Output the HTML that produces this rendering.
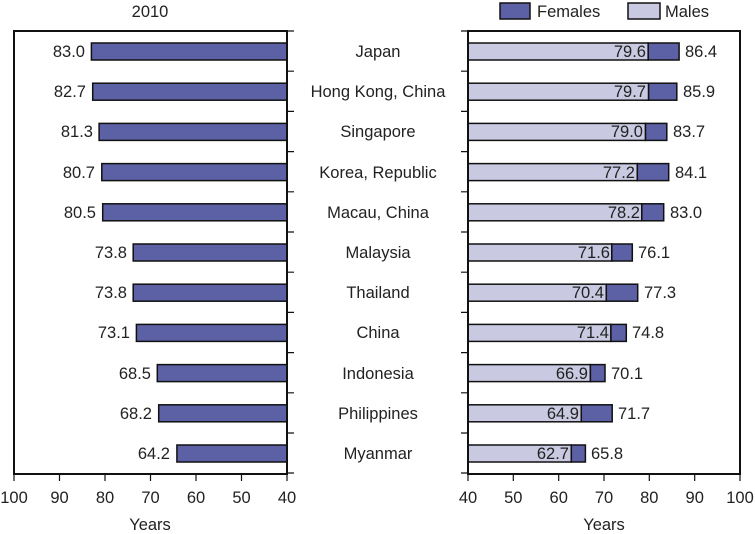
<!DOCTYPE html>
<html><head><meta charset="utf-8"><style>body{margin:0;background:#fff}svg{display:block}</style></head>
<body>
<svg width="755" height="534" xmlns="http://www.w3.org/2000/svg" font-family="Liberation Sans, sans-serif" font-size="16.5" fill="#222">
<text x="150" y="17" text-anchor="middle">2010</text>
<!-- legend -->
<rect x="500" y="3" width="30" height="16" fill="#5c61a5" stroke="#111" stroke-width="1.5"/>
<text x="537" y="17">Females</text>
<rect x="628" y="3" width="32" height="16" fill="#c9c9e2" stroke="#111" stroke-width="1.5"/>
<text x="665" y="17">Males</text>
<!-- left bars -->
<g fill="#5c61a5" stroke="#111" stroke-width="1.5">
<rect x="91.4" y="43" width="195.6" height="17"/>
<rect x="92.7" y="83.2" width="194.3" height="17"/>
<rect x="99.1" y="123.4" width="187.9" height="17"/>
<rect x="101.8" y="163.6" width="185.2" height="17"/>
<rect x="102.7" y="203.8" width="184.3" height="17"/>
<rect x="133.2" y="244" width="153.8" height="17"/>
<rect x="133.2" y="284.2" width="153.8" height="17"/>
<rect x="136.4" y="324.4" width="150.6" height="17"/>
<rect x="157.3" y="364.6" width="129.7" height="17"/>
<rect x="158.7" y="404.8" width="128.3" height="17"/>
<rect x="176.9" y="445" width="110.1" height="17"/>
</g>
<g text-anchor="end">
<text x="85" y="57">83.0</text>
<text x="86" y="97">82.7</text>
<text x="93" y="137">81.3</text>
<text x="95" y="178">80.7</text>
<text x="96" y="218">80.5</text>
<text x="127" y="258">73.8</text>
<text x="127" y="298">73.8</text>
<text x="130" y="338">73.1</text>
<text x="151" y="379">68.5</text>
<text x="152" y="419">68.2</text>
<text x="170" y="459">64.2</text>
</g>
<rect x="14" y="31" width="273" height="443" fill="none" stroke="#111" stroke-width="2"/>
<!-- right bars -->
<g stroke="#111" stroke-width="1.5">
<rect x="468" y="43" width="180.2" height="17" fill="#c9c9e2"/><rect x="648.2" y="43" width="30.9" height="17" fill="#5c61a5"/>
<rect x="468" y="83.2" width="180.6" height="17" fill="#c9c9e2"/><rect x="648.6" y="83.2" width="28.2" height="17" fill="#5c61a5"/>
<rect x="468" y="123.4" width="177.5" height="17" fill="#c9c9e2"/><rect x="645.5" y="123.4" width="21.3" height="17" fill="#5c61a5"/>
<rect x="468" y="163.6" width="169.3" height="17" fill="#c9c9e2"/><rect x="637.3" y="163.6" width="31.4" height="17" fill="#5c61a5"/>
<rect x="468" y="203.8" width="173.8" height="17" fill="#c9c9e2"/><rect x="641.8" y="203.8" width="21.9" height="17" fill="#5c61a5"/>
<rect x="468" y="244" width="143.8" height="17" fill="#c9c9e2"/><rect x="611.8" y="244" width="20.5" height="17" fill="#5c61a5"/>
<rect x="468" y="284.2" width="138.3" height="17" fill="#c9c9e2"/><rect x="606.3" y="284.2" width="31.4" height="17" fill="#5c61a5"/>
<rect x="468" y="324.4" width="142.9" height="17" fill="#c9c9e2"/><rect x="610.9" y="324.4" width="15.4" height="17" fill="#5c61a5"/>
<rect x="468" y="364.6" width="122.4" height="17" fill="#c9c9e2"/><rect x="590.4" y="364.6" width="14.6" height="17" fill="#5c61a5"/>
<rect x="468" y="404.8" width="113.3" height="17" fill="#c9c9e2"/><rect x="581.3" y="404.8" width="30.9" height="17" fill="#5c61a5"/>
<rect x="468" y="445" width="103.3" height="17" fill="#c9c9e2"/><rect x="571.3" y="445" width="14.1" height="17" fill="#5c61a5"/>
</g>
<g text-anchor="end">
<text x="646" y="57">79.6</text>
<text x="646" y="97">79.7</text>
<text x="643" y="137">79.0</text>
<text x="635" y="178">77.2</text>
<text x="640" y="218">78.2</text>
<text x="610" y="258">71.6</text>
<text x="604" y="298">70.4</text>
<text x="609" y="338">71.4</text>
<text x="588" y="379">66.9</text>
<text x="579" y="419">64.9</text>
<text x="569" y="459">62.7</text>
</g>
<g>
<text x="685" y="57">86.4</text>
<text x="683" y="97">85.9</text>
<text x="673" y="137">83.7</text>
<text x="675" y="178">84.1</text>
<text x="670" y="218">83.0</text>
<text x="638" y="258">76.1</text>
<text x="644" y="298">77.3</text>
<text x="632" y="338">74.8</text>
<text x="611" y="379">70.1</text>
<text x="618" y="419">71.7</text>
<text x="591" y="459">65.8</text>
</g>
<rect x="468" y="31" width="272" height="443" fill="none" stroke="#111" stroke-width="2"/>
<!-- center labels -->
<g text-anchor="middle">
<text x="378" y="57">Japan</text>
<text x="378" y="97">Hong Kong, China</text>
<text x="378" y="137">Singapore</text>
<text x="378" y="178">Korea, Republic</text>
<text x="378" y="218">Macau, China</text>
<text x="378" y="258">Malaysia</text>
<text x="378" y="298">Thailand</text>
<text x="378" y="338">China</text>
<text x="378" y="379">Indonesia</text>
<text x="378" y="419">Philippines</text>
<text x="378" y="459">Myanmar</text>
</g>
<!-- side ticks -->
<g stroke="#111" stroke-width="1.2">
<path d="M287 31h7M287 71.2h7M287 111.4h7M287 151.6h7M287 191.8h7M287 232h7M287 272.2h7M287 312.4h7M287 352.6h7M287 392.8h7M287 433h7M287 473h7"/>
<path d="M468 31h-7M468 71.2h-7M468 111.4h-7M468 151.6h-7M468 191.8h-7M468 232h-7M468 272.2h-7M468 312.4h-7M468 352.6h-7M468 392.8h-7M468 433h-7M468 473h-7"/>
<path d="M14 474v7M59.5 474v7M105 474v7M150.5 474v7M196 474v7M241.5 474v7M287 474v7"/>
<path d="M468 474v7M513.3 474v7M558.7 474v7M604 474v7M649.3 474v7M694.7 474v7M740 474v7"/>
</g>
<g text-anchor="middle">
<text x="14" y="503">100</text><text x="59.5" y="503">90</text><text x="105" y="503">80</text><text x="150.5" y="503">70</text><text x="196" y="503">60</text><text x="241.5" y="503">50</text><text x="287" y="503">40</text>
<text x="468" y="503">40</text><text x="513.3" y="503">50</text><text x="558.7" y="503">60</text><text x="604" y="503">70</text><text x="649.3" y="503">80</text><text x="694.7" y="503">90</text><text x="740" y="503">100</text>
<text x="150" y="530">Years</text>
<text x="604" y="530">Years</text>
</g>
</svg>
</body></html>
